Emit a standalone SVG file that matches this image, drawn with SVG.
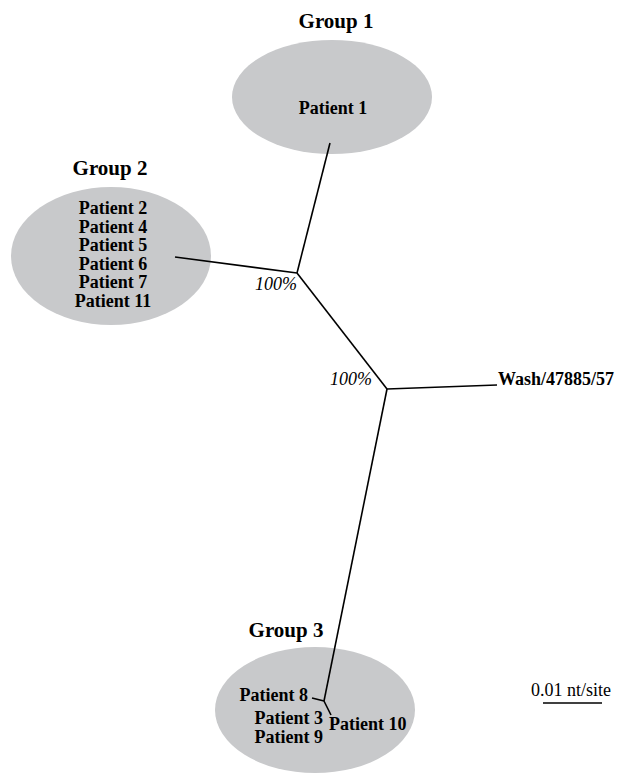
<svg xmlns="http://www.w3.org/2000/svg" width="618" height="783" viewBox="0 0 618 783">
<style>
.ell{fill:#c8c9cb;stroke:none}
.lab{font-family:"Liberation Serif","Times New Roman",serif;font-weight:bold;font-size:18px;fill:#000}
.grp{font-family:"Liberation Serif","Times New Roman",serif;font-weight:bold;font-size:21px;fill:#000}
.pct{font-family:"Liberation Serif","Times New Roman",serif;font-style:italic;font-size:18px;fill:#000}
.sc{font-family:"Liberation Serif","Times New Roman",serif;font-size:18px;fill:#000}
.br{stroke:#000;stroke-width:1.6;fill:none;stroke-linecap:butt}
</style>
<rect width="618" height="783" fill="#fff"/>
<g id="group1">
<ellipse class="ell" cx="332" cy="97" rx="100" ry="57"/>
<text class="grp" x="336" y="28" text-anchor="middle">Group 1</text>
<text class="lab" x="333" y="114" text-anchor="middle">Patient 1</text>
</g>
<g id="group2">
<ellipse class="ell" cx="111" cy="256" rx="100" ry="69"/>
<text class="grp" x="110" y="175" text-anchor="middle">Group 2</text>
<text class="lab" x="113" y="214" text-anchor="middle">Patient 2</text>
<text class="lab" x="113" y="232.5" text-anchor="middle">Patient 4</text>
<text class="lab" x="113" y="251" text-anchor="middle">Patient 5</text>
<text class="lab" x="113" y="269.5" text-anchor="middle">Patient 6</text>
<text class="lab" x="113" y="288" text-anchor="middle">Patient 7</text>
<text class="lab" x="113" y="306.5" text-anchor="middle">Patient 11</text>
</g>
<g id="group3">
<ellipse class="ell" cx="315" cy="710" rx="100" ry="63"/>
<text class="grp" x="286" y="637" text-anchor="middle">Group 3</text>
<text class="lab" x="308" y="701" text-anchor="end">Patient 8</text>
<text class="lab" x="323" y="724" text-anchor="end">Patient 3</text>
<text class="lab" x="323" y="743" text-anchor="end">Patient 9</text>
<text class="lab" x="329" y="730">Patient 10</text>
</g>
<g id="wash">
<text class="lab" x="498" y="385">Wash/47885/57</text>
</g>
<g id="connectors">
<line class="br" x1="297" y1="273" x2="330" y2="143"/>
<line class="br" x1="297" y1="273" x2="175" y2="257"/>
<line class="br" x1="297" y1="273" x2="387" y2="389"/>
<line class="br" x1="387" y1="389" x2="497" y2="385"/>
<line class="br" x1="387" y1="389" x2="324" y2="701"/>
<line class="br" x1="324" y1="701" x2="312" y2="698"/>
<line class="br" x1="324" y1="701" x2="331" y2="715"/>
</g>
<g id="bootstrap">
<text class="pct" x="255" y="290">100%</text>
<text class="pct" x="330" y="385">100%</text>
</g>
<g id="scale">
<text class="sc" x="571" y="696" text-anchor="middle">0.01 nt/site</text>
<line class="br" x1="543" y1="703" x2="602" y2="703"/>
</g>
</svg>
